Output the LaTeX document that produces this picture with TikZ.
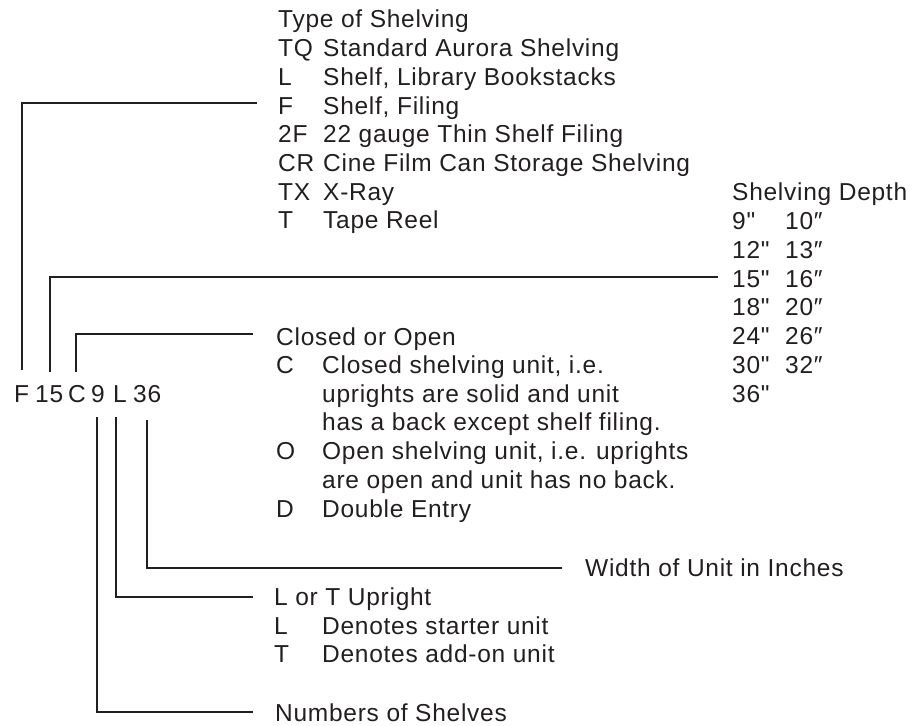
\documentclass[tikz,border=0pt]{standalone}
\usepackage{fontspec}
\newfontfamily\labelfont{Liberation Sans}[LetterSpace=3]
\definecolor{ink}{HTML}{231F20}
\tikzset{
  txt/.style={anchor=base west, inner sep=0pt, text=ink, font=\labelfont\fontsize{24.5}{29}\selectfont},
  conn/.style={draw=ink, line width=2pt, line cap=butt, line join=miter}
}
\begin{document}
\begin{tikzpicture}[x=1pt,y=-1pt]
\useasboundingbox (0,0) rectangle (917,725);
% code tokens
\node[txt] (tF) at (14,402) {F};
\node[txt] (t15) at (35,402) {15};
\node[txt] (tC) at (68,402) {C};
\node[txt] (t9) at (91,402) {9};
\node[txt] (tL) at (113,402) {L};
\node[txt] (t36) at (133,402) {36};
% type of shelving
\node[txt] (hType) at (278,28) {Type of Shelving};
\node[txt] (kTQ) at (278,56.7) {TQ};  \node[txt] (dTQ) at (323,56.7) {Standard Aurora Shelving};
\node[txt] (kL) at (278,85.4) {L};    \node[txt] (dL) at (323,85.4) {Shelf, Library Bookstacks};
\node[txt] (kF) at (278,114.1) {F};   \node[txt] (dF) at (323,114.1) {Shelf, Filing};
\node[txt] (k2F) at (278,142.8) {2F}; \node[txt] (d2F) at (323,142.8) {22 gauge Thin Shelf Filing};
\node[txt] (kCR) at (278,171.5) {CR}; \node[txt] (dCR) at (323,171.5) {Cine Film Can Storage Shelving};
\node[txt] (kTX) at (278,200.2) {TX}; \node[txt] (dTX) at (323,200.2) {X-Ray};
\node[txt] (kT) at (278,228.9) {T};   \node[txt] (dT) at (323,228.9) {Tape Reel};
% shelving depth
\node[txt] (hDepth) at (732,200.2) {Shelving Depth};
\node[txt] (a1) at (732,229) {9"};  \node[txt] (b1) at (785,229) {10″};
\node[txt] (a2) at (732,258) {12"}; \node[txt] (b2) at (785,258) {13″};
\node[txt] (a3) at (732,287) {15"}; \node[txt] (b3) at (785,287) {16″};
\node[txt] (a4) at (732,315) {18"}; \node[txt] (b4) at (785,315) {20″};
\node[txt] (a5) at (732,344) {24"}; \node[txt] (b5) at (785,344) {26″};
\node[txt] (a6) at (732,373) {30"}; \node[txt] (b6) at (785,373) {32″};
\node[txt] (a7) at (732,402) {36"};
% closed or open
\node[txt] (hClosed) at (276,345) {Closed or Open};
\node[txt] (kC) at (276,373.5) {C};  \node[txt] (dC1) at (322,373.5) {Closed shelving unit, i.e.};
\node[txt] (dC2) at (322,402) {uprights are solid and unit};
\node[txt] (dC3) at (322,430.5) {has a back except shelf filing.};
\node[txt] (kO) at (276,459) {O};  \node[txt] (dO1) at (322,459) {Open shelving unit, i.e. uprights};
\node[txt] (dO2) at (322,488) {are open and unit has no back.};
\node[txt] (kD) at (276,517) {D};  \node[txt] (dD) at (322,517) {Double Entry};
% width
\node[txt] (hWidth) at (585,576) {Width of Unit in Inches};
% upright
\node[txt] (hUp) at (274,605) {L or T Upright};
\node[txt] (kUL) at (274,634) {L}; \node[txt] (dUL) at (322,634) {Denotes starter unit};
\node[txt] (kUT) at (274,662.5) {T}; \node[txt] (dUT) at (322,662.5) {Denotes add-on unit};
% shelves
\node[txt] (hShelves) at (275,721) {Numbers of Shelves};
% connector points
\coordinate (cF0) at (22,370);   \coordinate (cF1) at (257,103);
\coordinate (c150) at (50,372);  \coordinate (c151) at (718,277);
\coordinate (cC0) at (76,372);   \coordinate (cC1) at (253,334);
\coordinate (c360) at (147,420); \coordinate (c361) at (562,568);
\coordinate (cL0) at (116,417);  \coordinate (cL1) at (253,597);
\coordinate (c90) at (97,417);   \coordinate (c91) at (253,712);
\draw[conn] (cF0) |- (cF1);
\draw[conn] (c150) |- (c151);
\draw[conn] (cC0) |- (cC1);
\draw[conn] (c360) |- (c361);
\draw[conn] (cL0) |- (cL1);
\draw[conn] (c90) |- (c91);
\end{tikzpicture}
\end{document}
